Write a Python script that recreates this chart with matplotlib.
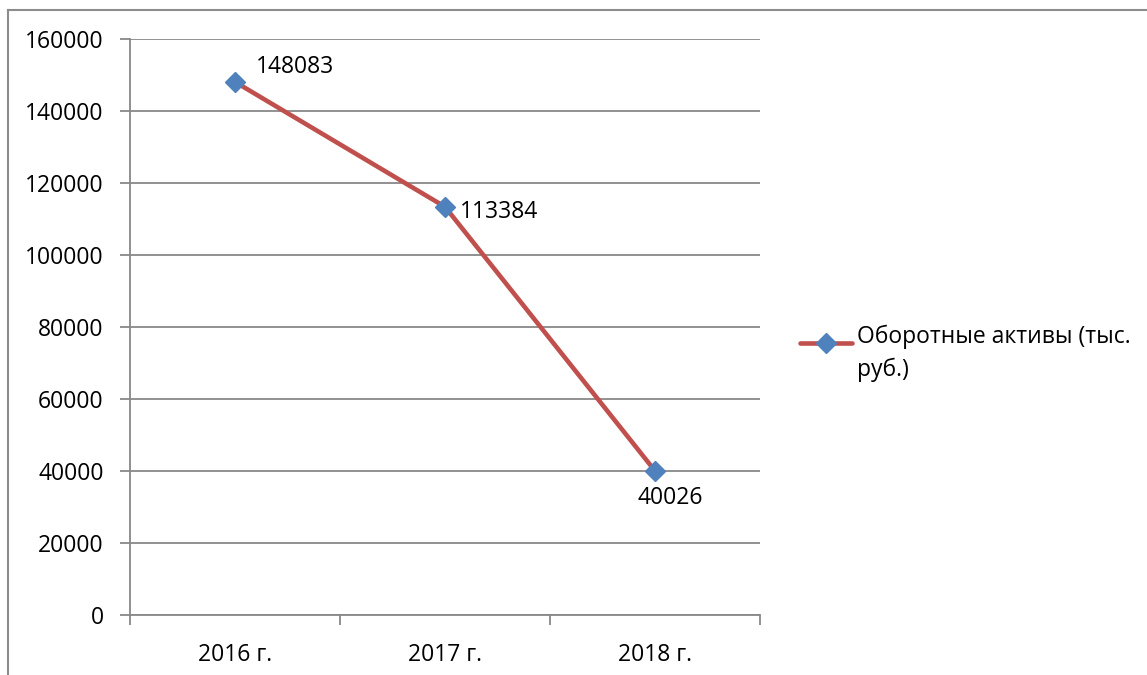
import matplotlib
matplotlib.use("Agg")
import matplotlib.pyplot as plt
from matplotlib.lines import Line2D
from matplotlib.ticker import FixedLocator

plt.rcParams["font.family"] = ["Open Sans", "DejaVu Sans"]

# current assets by year, thousand rubles
years = ["2016 г.", "2017 г.", "2018 г."]
assets = [148083, 113384, 40026]
series_label = "Оборотные активы (тыс.\nруб.)"
# label offsets from each point (pixels): left edge x, vertical centre y
label_offsets = [(21, 15), (15, -5), (-17, -27)]

line_color = "#C0504D"
marker_color = "#4F81BD"
grid_color = "#888888"
fs = 16.5

fig = plt.figure(figsize=(11.47, 6.75), dpi=100)
ax = fig.add_axes([130 / 1147, 1 - 615 / 675, 630 / 1147, 576 / 675])

x = list(range(len(years)))
ax.plot(x, assets, color=line_color, lw=3.3, marker="D", ms=10,
        mfc=marker_color, mec=marker_color, zorder=3)

for xi, val, (dx, dy) in zip(x, assets, label_offsets):
    ax.annotate(str(val), (xi, val), xytext=(dx, dy), textcoords="offset pixels",
                ha="left", va="center", fontsize=fs, color="black")

ax.set_xlim(-0.5, len(years) - 0.5)
ax.set_ylim(0, 160000)
ax.set_yticks(range(0, 160001, 20000))
ax.set_xticks(x)
ax.set_xticklabels(years)
ax.xaxis.set_minor_locator(FixedLocator([i - 0.5 for i in range(len(years) + 1)]))
ax.tick_params(axis="x", which="major", length=0, pad=20, labelsize=fs)
ax.tick_params(axis="x", which="minor", length=7, width=1.3, color=grid_color)
ax.tick_params(axis="y", length=7, width=1.3, color=grid_color, pad=12,
               labelsize=fs)

ax.grid(axis="y", color=grid_color, lw=1.3)
ax.set_axisbelow(True)
for side in ("top", "right"):
    ax.spines[side].set_visible(False)
for side in ("left", "bottom"):
    ax.spines[side].set_color(grid_color)
    ax.spines[side].set_linewidth(1.3)

# legend: handle sits on the first line of the wrapped label
ly = 1 - 343 / 675
fig.add_artist(Line2D([800 / 1147, 852 / 1147], [ly, ly], transform=fig.transFigure,
                      color=line_color, lw=3.3, solid_capstyle="round"))
fig.add_artist(Line2D([826 / 1147], [ly], transform=fig.transFigure, marker="D",
                      ms=10, mfc=marker_color, mec=marker_color, ls="none"))
fig.text(857 / 1147, 1 - 325 / 675, series_label, ha="left", va="top",
         fontsize=fs, linespacing=1.45)

# outer chart border (top and left edges)
bx = 8 / 1147
by = 1 - 10 / 675
fig.add_artist(Line2D([bx, bx], [0, by], transform=fig.transFigure,
                      color="#8c8c8c", lw=1.5))
fig.add_artist(Line2D([bx, 1], [by, by], transform=fig.transFigure,
                      color="#8c8c8c", lw=1.5))

fig.savefig("out.png", dpi=100, facecolor="white")
